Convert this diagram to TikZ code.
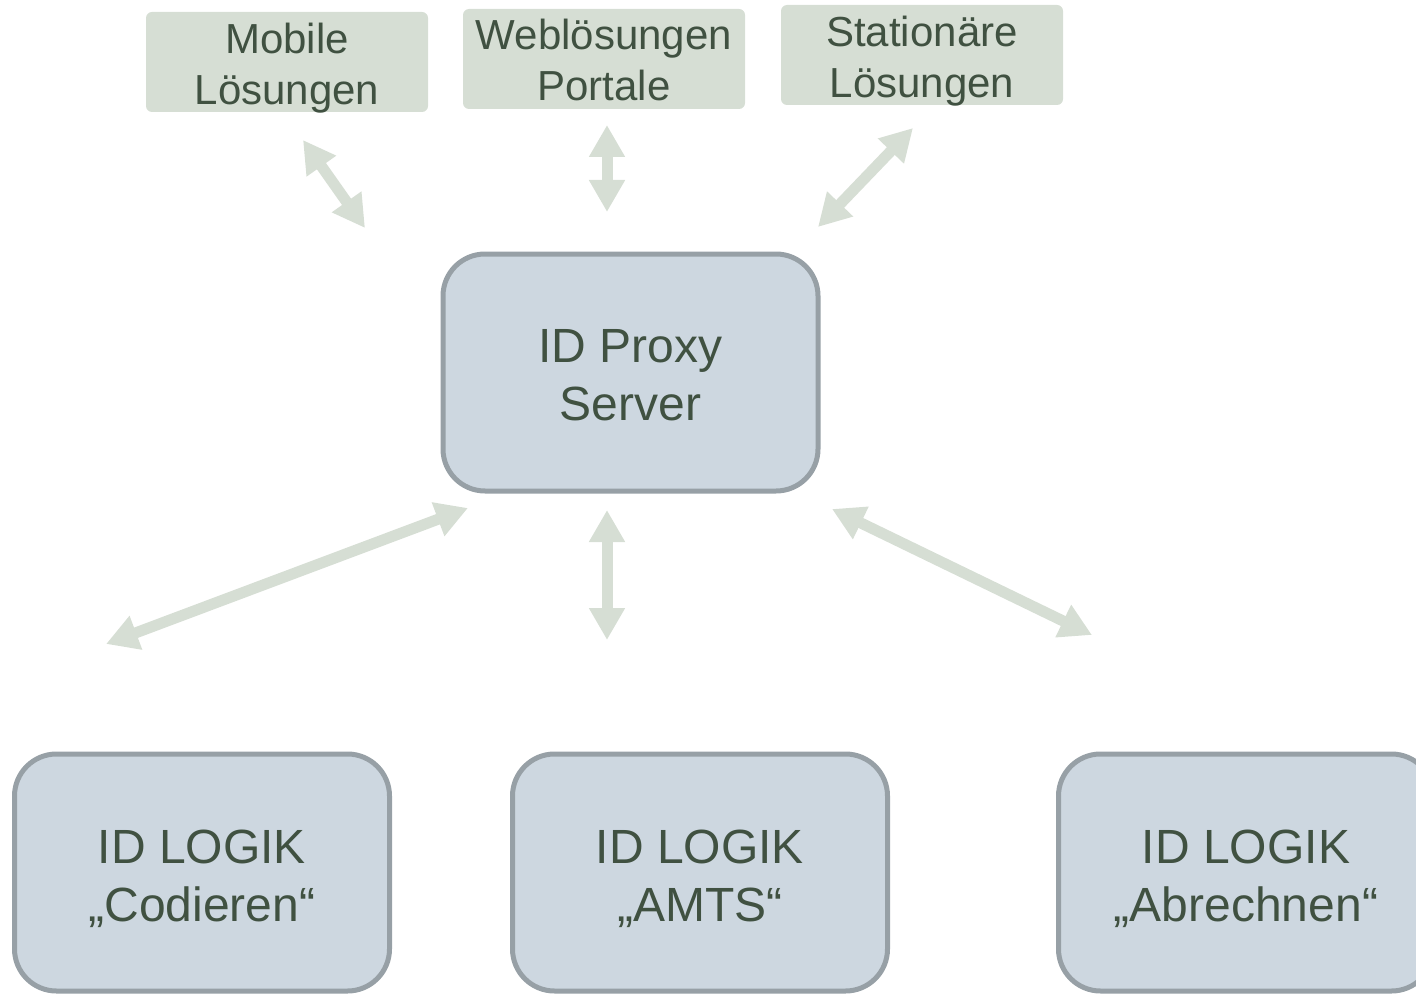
\documentclass[tikz,border=0pt]{standalone}
\usepackage{fontspec}
\setmainfont{Liberation Sans}
\usetikzlibrary{arrows.meta}

\definecolor{txtgreen}{HTML}{405141}
\definecolor{sage}{HTML}{D6DED4}
\definecolor{boxblue}{HTML}{CDD7E0}
\definecolor{boxedge}{HTML}{97A0A6}

\tikzset{
  channel/.style={fill=sage, rounded corners=6pt, minimum width=282pt,
    minimum height=100pt, inner sep=0pt},
  chantext/.style={align=center, text=txtgreen, inner sep=0pt,
    font=\fontsize{42}{51}\selectfont},
  corebox/.style={fill=boxblue, draw=boxedge, line width=5pt,
    rounded corners=42pt, minimum width=375pt, minimum height=237pt,
    inner sep=0pt},
  coretext/.style={align=center, text=txtgreen, inner sep=0pt,
    font=\fontsize{48}{58}\selectfont},
  biarrow/.style={draw=sage, line width=11pt,
    {Triangle[length=32pt,width=34pt]}-{Triangle[length=32pt,width=34pt]}}
}

\begin{document}
\begin{tikzpicture}[x=1pt,y=-1pt]
\useasboundingbox (0,0) rectangle (1416,995);
\clip (0,0) rectangle (1416,995);

% access channels
\node[channel, label={[chantext, yshift=-6pt]center:Mobile\\Lösungen}] (mobile) at (287,62) {};
\node[channel, label={[chantext, yshift=-1pt]center:Weblösungen\\Portale}] (web) at (604,59) {};
\node[channel, label={[chantext, yshift=-6pt]center:Stationäre\\Lösungen}] (station) at (922,55) {};

% proxy and logic services
\node[corebox, label={[coretext, yshift=-3pt]center:ID Proxy\\Server}] (proxy) at (630.5,372.5) {};
\node[corebox, label={[coretext, yshift=-6pt]center:ID LOGIK\\„Codieren“}] (cod) at (202,872.5) {};
\node[corebox, label={[coretext, yshift=-6pt]center:ID LOGIK\\„AMTS“}] (amts) at (700,872.5) {};
\node[corebox, label={[coretext, yshift=-6pt]center:ID LOGIK\\„Abrechnen“}] (abr) at (1246,872.5) {};

% arrow end points
\coordinate (mA) at (303,140);
\coordinate (mB) at (365,228);
\coordinate (wA) at (607,125);
\coordinate (wB) at (607,212);
\coordinate (sA) at (913,128);
\coordinate (sB) at (818,227);
\coordinate (cA) at (468,508);
\coordinate (cB) at (106,644);
\coordinate (aA) at (607,510);
\coordinate (aB) at (607,640);
\coordinate (rA) at (832,509);
\coordinate (rB) at (1092,635);

\draw[biarrow] (mA) -- (mB);
\draw[biarrow] (wA) -- (wB);
\draw[biarrow] (sA) -- (sB);
\draw[biarrow] (cA) -- (cB);
\draw[biarrow] (aA) -- (aB);
\draw[biarrow] (rA) -- (rB);
\end{tikzpicture}
\end{document}
